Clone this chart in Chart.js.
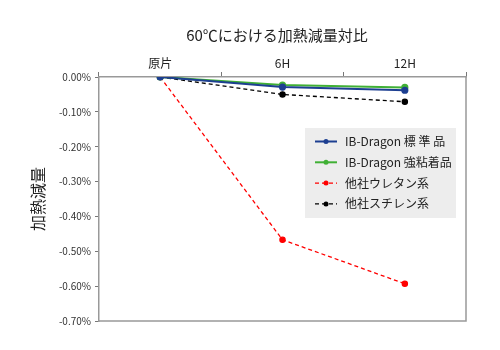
<!DOCTYPE html>
<html>
<head>
<meta charset="utf-8">
<script src="https://cdn.jsdelivr.net/npm/chart.js@4"></script>
<style>
  html, body { margin: 0; padding: 0; background: #fff; }
  #wrap { width: 500px; height: 350px; position: relative; }
</style>
</head>
<body>
<div id="wrap"><canvas id="c" width="500" height="350"></canvas></div>
<script>
// ===== Data =====
const categories = ['原片', '6H', '12H'];
const stdValues = [0, -0.029, -0.038];       // IB-Dragon 標 準 品
const strongValues = [0, -0.023, -0.030];    // IB-Dragon 強粘着品
const urethaneValues = [0, -0.467, -0.593];  // 他社ウレタン系
const styreneValues = [0, -0.050, -0.071];   // 他社スチレン系
const yTicks = [0, -0.1, -0.2, -0.3, -0.4, -0.5, -0.6, -0.7];

const FONT = '"Noto Sans CJK JP", "Noto Sans", sans-serif';

// title + in-plot legend drawn on the canvas
const extras = {
  id: 'extras',
  afterDraw(chart) {
    const g = chart.ctx;
    const a = chart.chartArea;
    g.save();
    // frame (right + bottom)
    g.strokeStyle = '#999';
    g.lineWidth = 1.5;
    g.beginPath();
    g.moveTo(a.right, a.top);
    g.lineTo(a.right, a.bottom);
    g.lineTo(a.left, a.bottom);
    g.stroke();

    // title
    g.fillStyle = '#222';
    g.font = '15px ' + FONT;
    g.textAlign = 'center';
    g.textBaseline = 'middle';
    g.fillText('60℃における加熱減量対比', 277, 35);

    // legend
    const bx = 305, by = 128, bw = 151, bh = 90;
    g.fillStyle = '#ededed';
    g.fillRect(bx, by, bw, bh);
    g.font = '12px ' + FONT;
    g.textAlign = 'left';
    chart.data.datasets.forEach((ds, i) => {
      const y = 141.5 + i * 20.8;
      g.strokeStyle = ds.borderColor;
      g.lineWidth = ds.borderWidth;
      g.setLineDash(ds.borderDash || []);
      g.beginPath();
      g.moveTo(315, y);
      g.lineTo(337, y);
      g.stroke();
      g.setLineDash([]);
      g.fillStyle = ds.borderColor;
      g.beginPath();
      g.arc(326, y, 2.5, 0, Math.PI * 2);
      g.fill();
      g.fillStyle = '#222';
      g.fillText(ds.label, 345, y);
    });
    g.restore();
  }
};

const ctx = document.getElementById('c').getContext('2d');
new Chart(ctx, {
  type: 'line',
  data: {
    labels: categories,
    datasets: [
      { label: 'IB-Dragon 標 準 品', data: stdValues, borderColor: '#1d3f91', backgroundColor: '#1d3f91', borderWidth: 2, pointRadius: 2.6, tension: 0 },
      { label: 'IB-Dragon 強粘着品', data: strongValues, borderColor: '#40b035', backgroundColor: '#40b035', borderWidth: 2, pointRadius: 2.6, tension: 0 },
      { label: '他社ウレタン系', data: urethaneValues, borderColor: '#ff0000', backgroundColor: '#ff0000', borderWidth: 1.3, borderDash: [4, 3], pointRadius: 2.6, tension: 0 },
      { label: '他社スチレン系', data: styreneValues, borderColor: '#000000', backgroundColor: '#000000', borderWidth: 1.3, borderDash: [4, 3], pointRadius: 2.6, tension: 0 }
    ]
  },
  options: {
    responsive: false,
    animation: false,
    layout: { padding: { left: 28, right: 34, top: 44, bottom: 29 } },
    plugins: {
      legend: { display: false },
      title: { display: false },
      tooltip: { enabled: false }
    },
    scales: {
      x: {
        position: 'top',
        offset: true,
        grid: { offset: true, drawOnChartArea: false, drawTicks: true, tickLength: 5, color: '#777' },
        border: { color: '#999', width: 1.5 },
        ticks: { color: '#222', font: { family: FONT, size: 12 }, padding: 1 },
        afterFit(s) { s.height = 33; }
      },
      y: {
        min: -0.7,
        max: 0,
        afterBuildTicks(s) { s.ticks = yTicks.map(v => ({ value: v })); },
        grid: { drawOnChartArea: false, drawTicks: true, tickLength: 4, color: '#777' },
        border: { color: '#999', width: 1.5 },
        ticks: {
          color: '#333',
          font: { family: FONT, size: 10 },
          padding: 4,
          callback: v => v.toFixed(2) + '%'
        },
        title: { display: true, text: '加熱減量', color: '#222', font: { family: FONT, size: 16 }, padding: 0 },
        afterFit(s) { s.width = 71; }
      }
    }
  },
  plugins: [extras]
});
</script>
</body>
</html>
